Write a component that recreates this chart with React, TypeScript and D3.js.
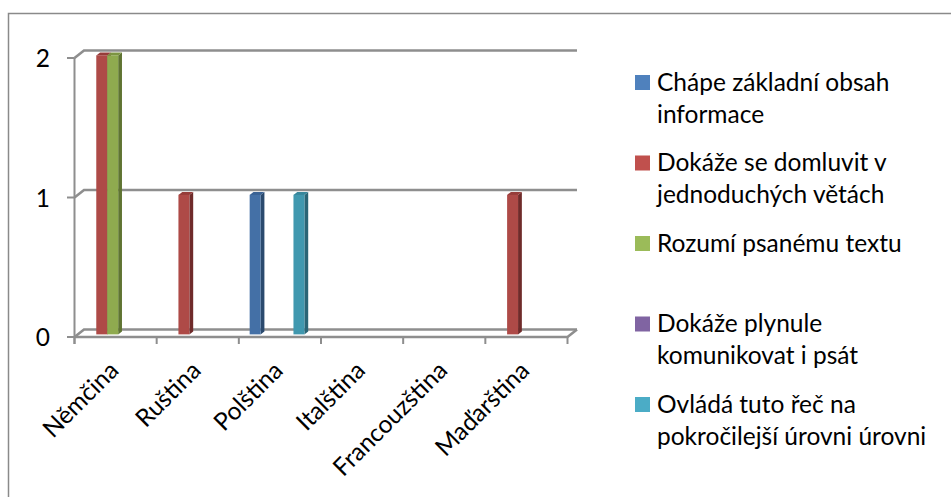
import React from "react";
import * as d3 from "d3";

// Languages on the category axis
const categories = ["Němčina", "Ruština", "Polština", "Italština", "Francouzština", "Maďarština"];

// Series names, each split into its legend lines
const seriesLabels = [
  ["Chápe základní obsah", "informace"],
  ["Dokáže se domluvit v", "jednoduchých větách"],
  ["Rozumí psanému textu"],
  ["Dokáže plynule", "komunikovat i psát"],
  ["Ovládá tuto řeč na", "pokročilejší úrovni úrovni"],
];

// Counts per language for every series
const chapeValues = [0, 0, 1, 0, 0, 0];
const domluvitValues = [2, 1, 0, 0, 0, 1];
const rozumiValues = [2, 0, 0, 0, 0, 0];
const plynuleValues = [0, 0, 0, 0, 0, 0];
const ovladaValues = [0, 0, 1, 0, 0, 0];

const yTicks = [0, 1, 2];

// Face colours: front, side, top
const frontColors = ["#4470A6", "#AE4A47", "#8FAA4F", "#7A5F9C", "#4098AF"];
const sideColors = ["#2B4A6E", "#6F2B2A", "#5F7432", "#4E3C66", "#2A6576"];
const topColors = ["#3A6294", "#963D3A", "#7C9442", "#6A5288", "#37879C"];
const legendColors = ["#4F81BD", "#C0504D", "#9BBB59", "#8064A2", "#4BACC6"];

const seriesValues = [chapeValues, domluvitValues, rozumiValues, plynuleValues, ovladaValues];

const W = 951;
const H = 497;
const FONT = "Lato, 'Open Sans', sans-serif";
const FS = 24.5;

// Perspective offset of the plot's depth
const DEPTH_X = 9.5;
const DEPTH_Y = -7.5;

export default function App() {
  const left = 74.5;
  const right = 567.5;
  const y = d3.scaleLinear().domain([0, 2]).range([337, 58]);
  const x0 = d3.scaleBand<string>().domain(categories).range([left, right]);
  const seriesKeys = seriesLabels.map((_, i) => String(i));
  const x1 = d3.scaleBand<string>().domain(seriesKeys).range([0, 54.75]);

  const gridStroke = "#8E8E8E";

  // bar front plane and bar thickness within the depth
  const planeDx = DEPTH_X * 0.35;
  const planeDy = DEPTH_Y * 0.35;
  const barDx = DEPTH_X * 0.4;
  const barDy = DEPTH_Y * 0.4;
  const groupOffset = 7.5;

  const bars: React.ReactNode[] = [];
  categories.forEach((cat, ci) => {
    seriesValues.forEach((vals, si) => {
      const v = vals[ci];
      if (!v) return;
      const bx = (x0(cat) as number) + groupOffset + (x1(String(si)) as number) + planeDx;
      const bw = x1.bandwidth();
      const top = y(v) + planeDy;
      const bottom = y(0) + planeDy;
      const side = [
        [bx + bw, top],
        [bx + bw + barDx, top + barDy],
        [bx + bw + barDx, bottom + barDy],
        [bx + bw, bottom],
      ];
      const lid = [
        [bx, top],
        [bx + barDx, top + barDy],
        [bx + bw + barDx, top + barDy],
        [bx + bw, top],
      ];
      bars.push(
        <g key={`${ci}-${si}`}>
          <polygon points={side.map((p) => p.join(",")).join(" ")} fill={sideColors[si]} />
          <polygon points={lid.map((p) => p.join(",")).join(" ")} fill={topColors[si]} />
          <rect x={bx} y={top} width={bw} height={bottom - top} fill={frontColors[si]} />
        </g>
      );
    });
  });

  const tickXs = [...categories.map((c) => x0(c) as number), right];

  const legendX = 635;
  const legendTop = 75;
  const legendStep = 80.5;
  const lineStep = 32.3;

  return (
    <svg
      width={W}
      height={H}
      style={{ position: "absolute", left: 0, top: 0, background: "#fff" }}
      fontFamily={FONT}
    >
      <rect x={0} y={0} width={W} height={H} fill="#fff" />
      {/* chart frame */}
      <rect x={8.5} y={13.5} width={W + 20} height={H + 20} fill="none" stroke="#8A8A8A" strokeWidth={1.5} />

      {/* back wall gridlines with their side-wall diagonals */}
      {yTicks.map((t) => (
        <polyline
          key={`g${t}`}
          points={`${left},${y(t)} ${left + DEPTH_X},${y(t) + DEPTH_Y} ${right + DEPTH_X},${y(t) + DEPTH_Y}`}
          fill="none"
          stroke={gridStroke}
          strokeWidth={2.6}
        />
      ))}

      {/* floor front edge */}
      <polyline
        points={`${left},${y(0)} ${right},${y(0)} ${right + DEPTH_X},${y(0) + DEPTH_Y}`}
        fill="none"
        stroke={gridStroke}
        strokeWidth={2.6}
      />

      {bars}

      {/* value axis */}
      <line x1={left} y1={y(2)} x2={left} y2={y(0) + 7} stroke={gridStroke} strokeWidth={2} />
      {yTicks.map((t) => (
        <g key={`yt${t}`}>
          <line x1={left - 7.5} y1={y(t)} x2={left} y2={y(t)} stroke={gridStroke} strokeWidth={2} />
          <text x={50} y={y(t) + 9} textAnchor="end" fontSize={FS} fill="#000">
            {t}
          </text>
        </g>
      ))}

      {/* category ticks */}
      {tickXs.map((tx, i) => (
        <line key={`ct${i}`} x1={tx} y1={y(0)} x2={tx} y2={y(0) + 7} stroke={gridStroke} strokeWidth={2} />
      ))}

      {/* category labels */}
      {categories.map((cat) => {
        const cx = (x0(cat) as number) + x0.bandwidth() / 2 + 4.5;
        const cy = 372;
        return (
          <text
            key={cat}
            x={cx}
            y={cy}
            textAnchor="end"
            fontSize={FS}
            fill="#000"
            transform={`rotate(-45 ${cx} ${cy})`}
          >
            {cat}
          </text>
        );
      })}

      {/* legend */}
      {seriesLabels.map((lines, i) => {
        const top = legendTop + i * legendStep;
        return (
          <g key={`lg${i}`}>
            <rect x={legendX} y={top} width={15} height={15} fill={legendColors[i]} />
            {lines.map((ln, li) => (
              <text key={li} x={657} y={top + 15.5 + li * lineStep} fontSize={FS} fill="#000">
                {ln}
              </text>
            ))}
          </g>
        );
      })}
    </svg>
  );
}
